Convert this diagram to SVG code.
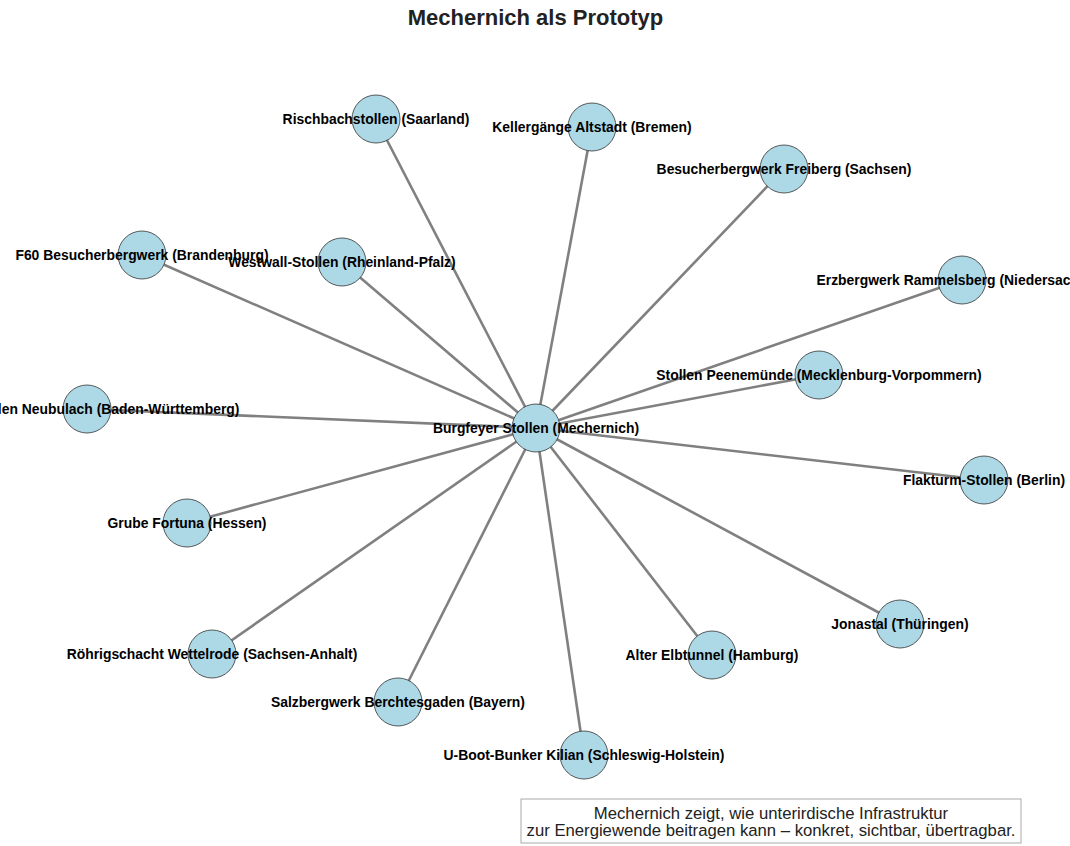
<svg xmlns="http://www.w3.org/2000/svg" width="1070" height="846" viewBox="0 0 1070 846">
<style>
.e{stroke:#808080;stroke-width:2.6;fill:none}
.n circle{fill:#add8e6;stroke:#333;stroke-width:0.8}
.l{font-family:"Liberation Sans",Arial,sans-serif;font-weight:bold;font-size:13.9px;fill:#000;text-anchor:middle}
.t{font-family:"Liberation Sans",Arial,sans-serif;font-weight:bold;font-size:22px;fill:#222;text-anchor:middle}
.c{font-family:"Liberation Sans",Arial,sans-serif;font-size:16.7px;fill:#222;text-anchor:middle}
</style>
<rect width="1070" height="846" fill="#fff"/>
<text class="t" x="535.5" y="25">Mechernich als Prototyp</text>
<g id="connectors">
<line class="e" x1="536" y1="428" x2="376" y2="119"/>
<line class="e" x1="536" y1="428" x2="592" y2="127"/>
<line class="e" x1="536" y1="428" x2="784" y2="169"/>
<line class="e" x1="536" y1="428" x2="962" y2="280"/>
<line class="e" x1="536" y1="428" x2="819" y2="375"/>
<line class="e" x1="536" y1="428" x2="984" y2="480"/>
<line class="e" x1="536" y1="428" x2="900" y2="624"/>
<line class="e" x1="536" y1="428" x2="712" y2="655"/>
<line class="e" x1="536" y1="428" x2="584" y2="755"/>
<line class="e" x1="536" y1="428" x2="398" y2="702"/>
<line class="e" x1="536" y1="428" x2="212" y2="654"/>
<line class="e" x1="536" y1="428" x2="187" y2="523"/>
<line class="e" x1="536" y1="428" x2="87" y2="409"/>
<line class="e" x1="536" y1="428" x2="142" y2="255"/>
<line class="e" x1="536" y1="428" x2="342" y2="262"/>
</g>
<g id="n-rischbach" class="n"><circle cx="376" cy="119" r="24"/></g>
<g id="n-keller" class="n"><circle cx="592" cy="127" r="24"/></g>
<g id="n-freiberg" class="n"><circle cx="784" cy="169" r="24"/></g>
<g id="n-rammelsberg" class="n"><circle cx="962" cy="280" r="24"/></g>
<g id="n-peenemuende" class="n"><circle cx="819" cy="375" r="24"/></g>
<g id="n-flakturm" class="n"><circle cx="984" cy="480" r="24"/></g>
<g id="n-jonastal" class="n"><circle cx="900" cy="624" r="24"/></g>
<g id="n-elbtunnel" class="n"><circle cx="712" cy="655" r="24"/></g>
<g id="n-kilian" class="n"><circle cx="584" cy="755" r="24"/></g>
<g id="n-berchtesgaden" class="n"><circle cx="398" cy="702" r="24"/></g>
<g id="n-wettelrode" class="n"><circle cx="212" cy="654" r="24"/></g>
<g id="n-fortuna" class="n"><circle cx="187" cy="523" r="24"/></g>
<g id="n-neubulach" class="n"><circle cx="87" cy="409" r="24"/></g>
<g id="n-f60" class="n"><circle cx="142" cy="255" r="24"/></g>
<g id="n-westwall" class="n"><circle cx="342" cy="262" r="24"/></g>
<g id="n-burgfeyer" class="n"><circle cx="536" cy="428" r="24"/></g>
<g id="labels">
<text class="l" x="376" y="124">Rischbachstollen (Saarland)</text>
<text class="l" x="592" y="132">Kellergänge Altstadt (Bremen)</text>
<text class="l" x="784" y="174">Besucherbergwerk Freiberg (Sachsen)</text>
<text class="l" x="962" y="285">Erzbergwerk Rammelsberg (Niedersachsen)</text>
<text class="l" x="819" y="380">Stollen Peenemünde (Mecklenburg-Vorpommern)</text>
<text class="l" x="984" y="485">Flakturm-Stollen (Berlin)</text>
<text class="l" x="900" y="629">Jonastal (Thüringen)</text>
<text class="l" x="712" y="660">Alter Elbtunnel (Hamburg)</text>
<text class="l" x="584" y="760">U-Boot-Bunker Kilian (Schleswig-Holstein)</text>
<text class="l" x="398" y="707">Salzbergwerk Berchtesgaden (Bayern)</text>
<text class="l" x="212" y="659">Röhrigschacht Wettelrode (Sachsen-Anhalt)</text>
<text class="l" x="187" y="528">Grube Fortuna (Hessen)</text>
<text class="l" x="87" y="414">Silberstollen Neubulach (Baden-Württemberg)</text>
<text class="l" x="142" y="260">F60 Besucherbergwerk (Brandenburg)</text>
<text class="l" x="342" y="267">Westwall-Stollen (Rheinland-Pfalz)</text>
<text class="l" x="536" y="433">Burgfeyer Stollen (Mechernich)</text>
</g>
<g id="caption">
<rect x="521" y="799" width="500" height="44" fill="#fff" stroke="#aaa" stroke-width="1"/>
<text class="c" x="771" y="819">Mechernich zeigt, wie unterirdische Infrastruktur</text>
<text class="c" x="771" y="836">zur Energiewende beitragen kann – konkret, sichtbar, übertragbar.</text>
</g>
</svg>
